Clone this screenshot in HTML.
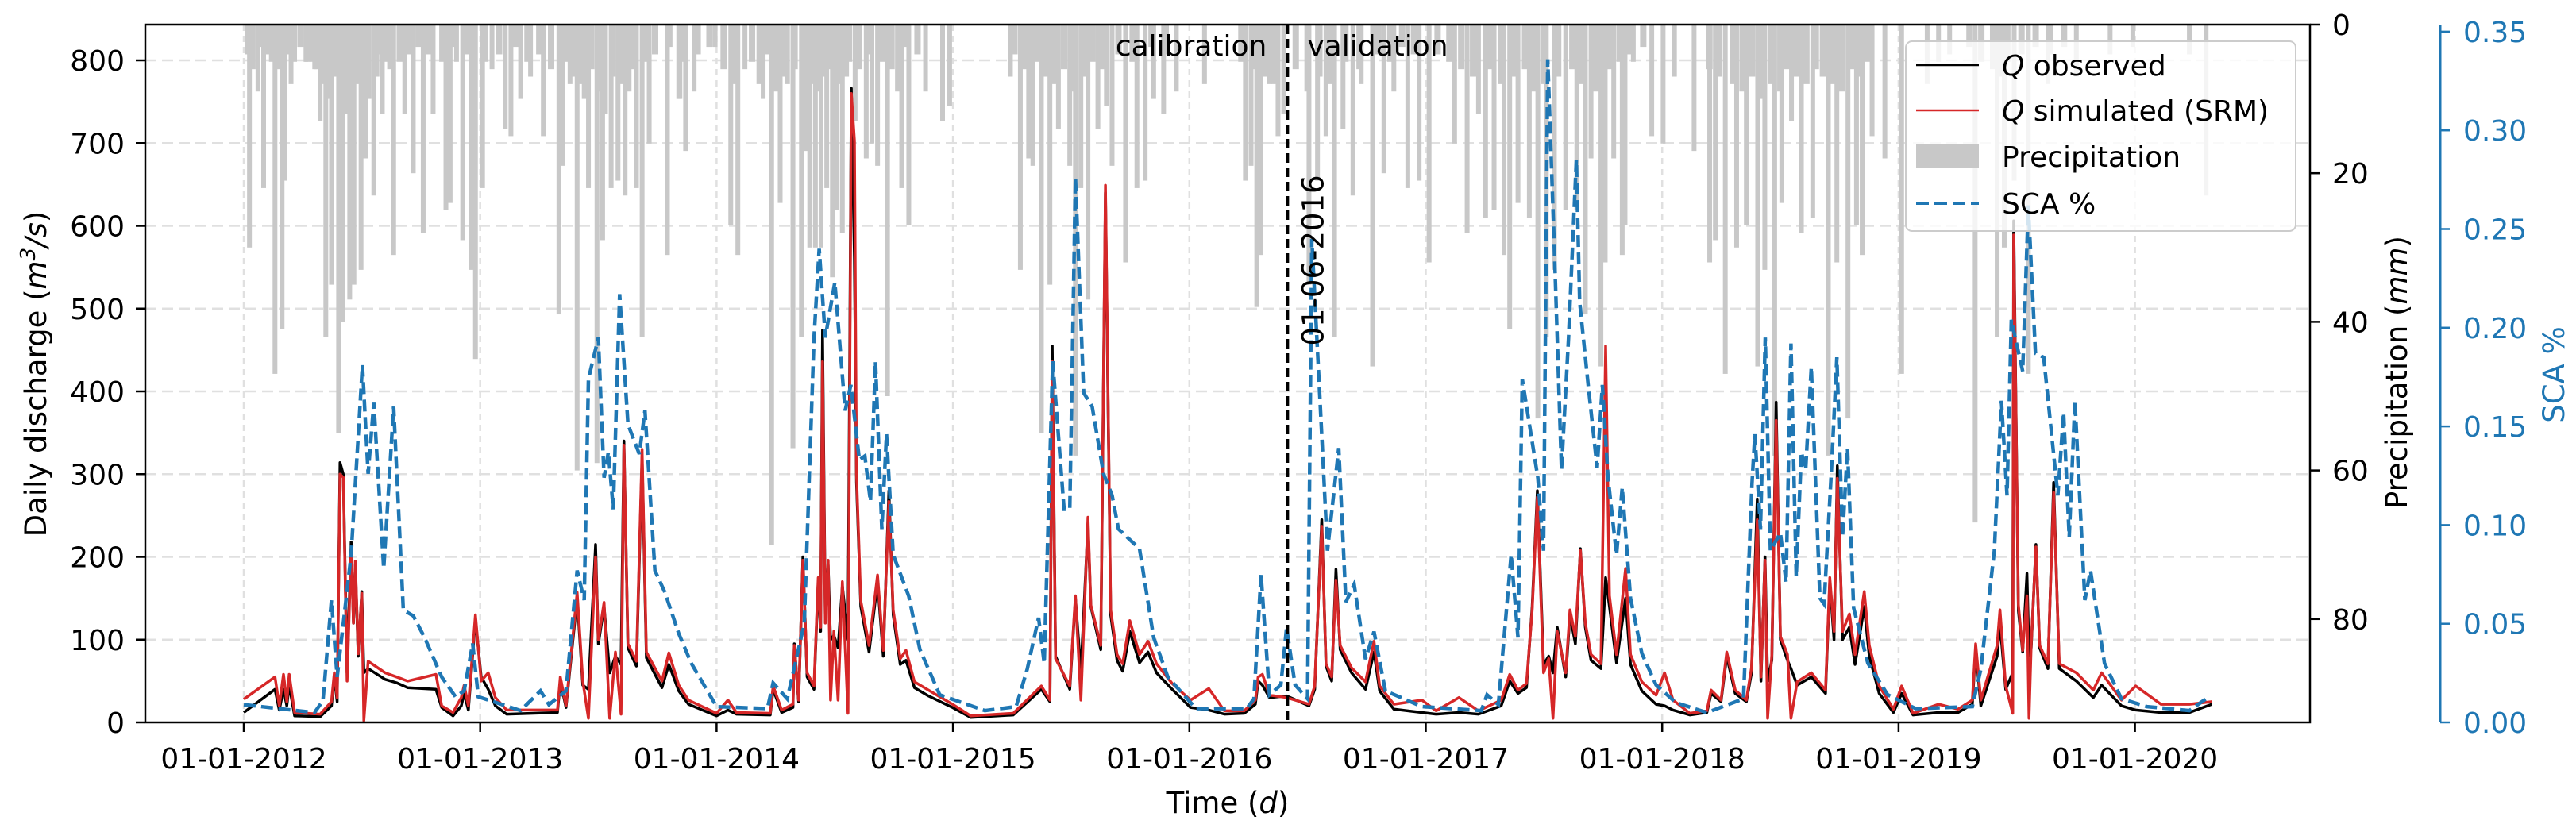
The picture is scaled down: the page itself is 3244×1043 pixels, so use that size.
<!DOCTYPE html>
<html><head><meta charset="utf-8">
<style>
html,body{margin:0;padding:0;background:#fff;}
svg{display:block;font-family:"DejaVu Sans","Liberation Sans",sans-serif;}
</style></head>
<body>
<svg id="chart" width="3244" height="1043" viewBox="0 0 3244 1043" xmlns="http://www.w3.org/2000/svg">
<defs><clipPath id="plotclip"><rect x="183" y="31" width="2726" height="879"/></clipPath></defs>
<rect x="0" y="0" width="3244" height="1043" fill="#fff"/>
<g id="grid"></g>
<g id="precip" clip-path="url(#plotclip)"></g>
<g id="series" clip-path="url(#plotclip)"></g>
<g id="axes"></g>
</svg>
<script>
// ---- data (time = years since 01-01-2012) ----
const yearTicks = ["01-01-2012","01-01-2013","01-01-2014","01-01-2015","01-01-2016","01-01-2017","01-01-2018","01-01-2019","01-01-2020"];
const qTicks = [0,100,200,300,400,500,600,700,800];
const pTicks = [0,20,40,60,80];
const scaTicks = ["0.00","0.05","0.10","0.15","0.20","0.25","0.30","0.35"];

const qT = [0,.132,.150,.168,.182,.192,.215,.323,.371,.383,.395,.407,.421,.437,.454,.464,.472,.484,.499,.508,.526,.598,.646,.693,.813,.837,.885,.920,.932,.950,.980,1.004,1.034,1.064,1.112,1.327,1.339,1.363,1.410,1.434,1.458,1.488,1.500,1.524,1.548,1.572,1.596,1.608,1.625,1.661,1.685,1.703,1.769,1.798,1.840,
1.881,2.000,2.048,2.084,2.227,2.239,2.275,2.323,2.329,2.347,2.365,2.383,2.412,2.430,2.440,2.448,2.460,2.472,2.482,2.496,2.514,2.532,2.556,2.570,2.583,2.592,2.610,2.645,2.681,2.705,2.729,2.747,2.777,2.801,2.837,2.896,2.998,3.075,3.255,3.374,3.410,3.420,3.434,3.494,3.518,3.541,3.571,3.583,3.625,3.645,3.667,3.694,
3.718,3.748,3.789,3.825,3.861,3.927,4.005,4.082,4.148,4.232,4.279,4.291,4.309,4.339,4.411,4.506,4.530,4.560,4.578,4.602,4.620,4.638,4.686,4.745,4.781,4.805,4.865,4.984,5.044,5.140,5.223,5.319,5.355,5.390,5.426,5.450,5.472,5.498,
5.520,5.538,5.556,5.592,5.610,5.633,5.654,5.675,5.699,5.741,5.761,5.777,5.807,5.845,5.866,5.914,5.974,6.010,6.046,6.117,6.189,6.207,6.249,6.273,6.309,6.356,6.378,6.402,6.418,6.435,6.446,6.464,6.482,6.500,6.530,6.545,6.571,6.631,6.691,6.709,6.727,6.741,6.763,6.792,6.816,6.855,6.876,6.918,6.978,7.013,7.061,7.169,7.252,7.312,7.326,7.348,
7.417,7.429,7.453,7.483,7.487,7.507,7.525,7.543,7.552,7.561,7.581,7.597,7.632,7.656,7.680,7.752,7.824,7.859,7.943,8.003,8.110,8.230,8.325];
const qSim = [28,55,20,58,25,58,12,10,25,60,30,300,296,50,210,120,195,83,156,2,74,60,55,50,58,20,12,30,45,20,130,50,60,30,15,15,55,20,157,50,5,200,100,145,5,85,10,335,95,74,330,85,50,84,45,
27,11,27,12,11,44,15,22,93,27,196,60,44,175,115,436,120,196,27,110,27,170,11,760,703,300,147,93,178,87,267,136,77,87,49,39,22,8,11,44,27,436,77,44,153,27,248,142,93,649,136,82,
71,123,82,98,71,47,27,41,14,14,27,55,58,33,30,22,44,237,71,55,172,93,66,49,98,44,22,27,14,30,14,27,58,39,47,136,272,60,
77,5,110,60,136,104,208,120,82,71,455,153,82,186,82,49,33,60,27,11,14,39,27,85,39,27,66,245,55,196,5,82,365,104,82,5,49,60,39,175,110,295,110,131,82,158,93,44,16,44,11,22,16,27,95,27,
93,136,44,11,589,142,87,153,5,93,212,93,71,278,71,60,39,60,27,44,22,22,25];
const qObs = [12,40,15,40,20,45,8,7,20,55,25,314,300,60,218,120,190,80,158,60,65,52,48,42,40,18,8,20,35,15,125,55,40,20,10,12,50,18,150,45,40,215,95,140,60,80,70,340,90,68,320,78,42,70,38,
22,8,15,10,9,40,12,18,95,25,200,55,40,170,110,474,125,190,100,105,90,165,100,766,560,290,140,85,170,80,280,130,70,75,42,32,18,6,9,40,25,455,80,40,150,60,240,140,88,640,130,75,
62,110,72,85,60,40,18,15,10,11,22,50,45,30,32,20,40,245,68,50,185,88,60,40,85,38,16,12,10,12,10,20,50,35,42,140,280,70,
80,60,115,55,130,95,210,115,75,65,175,140,72,150,70,38,22,20,15,9,12,35,25,80,35,25,60,270,50,200,50,75,387,100,75,65,45,55,35,170,100,310,100,115,70,140,80,35,12,35,9,12,12,22,90,20,
80,120,40,60,606,135,85,180,80,90,215,90,65,290,65,50,30,45,20,15,12,12,22];

const scaT = [0,.299,.335,.371,.395,.454,.502,.526,.550,.592,.634,.675,.717,.765,.837,.896,.932,.968,.992,1.171,1.255,1.291,1.363,1.410,1.440,1.458,1.500,1.524,1.542,1.563,1.590,1.625,1.673,1.697,1.739,1.781,1.840,
1.893,2.000,2.215,2.239,2.299,2.371,2.412,2.434,2.460,2.500,2.544,2.568,2.604,2.627,2.651,2.672,2.699,2.719,2.747,2.813,2.860,2.944,3.135,3.267,3.314,3.362,3.386,3.422,3.470,3.494,3.518,3.553,3.589,3.637,3.673,
3.700,3.789,3.849,3.909,4.028,4.243,4.273,4.303,4.339,4.387,4.411,4.447,4.500,4.518,4.554,4.584,4.632,4.662,4.697,4.745,4.781,4.829,4.984,5.235,5.259,5.307,5.361,5.390,5.408,5.474,5.498,5.516,
5.544,5.574,5.604,5.637,5.651,5.687,5.725,5.747,5.771,5.807,5.831,5.866,5.914,5.974,6.058,6.189,6.344,6.380,6.392,6.416,6.436,6.458,6.500,6.524,6.545,6.567,6.589,6.607,6.631,6.667,6.685,6.715,6.739,6.763,6.784,6.810,6.870,6.954,7.073,7.312,7.348,
7.405,7.435,7.459,7.477,7.525,7.549,7.579,7.614,7.674,7.698,7.722,7.746,7.788,7.812,7.871,7.943,8.051,8.230,8.301];
const scaV = [.009,.005,.011,.062,.023,.085,.181,.126,.162,.078,.160,.057,.054,.043,.023,.013,.016,.040,.013,.006,.016,.009,.016,.077,.062,.174,.195,.124,.137,.108,.217,.151,.136,.158,.077,.066,.045,
.030,.008,.007,.020,.012,.050,.195,.240,.195,.223,.158,.171,.133,.135,.112,.183,.098,.146,.085,.064,.037,.014,.006,.008,.027,.053,.030,.183,.108,.108,.276,.167,.160,.126,.115,
.098,.088,.043,.023,.007,.007,.012,.075,.014,.019,.048,.019,.012,.245,.160,.087,.139,.061,.070,.032,.046,.016,.008,.006,.014,.009,.085,.043,.174,.124,.087,.336,
.240,.128,.195,.285,.213,.171,.129,.171,.124,.085,.119,.063,.035,.019,.010,.005,.012,.121,.146,.098,.195,.087,.096,.071,.192,.074,.137,.128,.180,.063,.060,.126,.185,.094,.139,.058,.030,.014,.007,.008,.027,
.087,.163,.115,.204,.178,.262,.187,.185,.115,.157,.094,.163,.062,.077,.030,.012,.008,.006,.012];

const pT = [.024,.04,.060,.084,.10,.132,.162,.174,.20,.215,.263,.287,.30,.323,.347,.36,.371,.401,.419,.43,.448,.466,.48,.496,.514,.53,.550,.586,.60,.634,.681,.717,.759,.801,.855,.873,.90,.926,.962,.980,1.010,1.05,1.106,1.130,1.171,1.213,1.267,1.333,1.350,1.38,1.410,1.44,1.458,1.494,1.518,1.53,1.554,1.583,1.613,1.63,1.661,1.685,1.715,1.792,1.840,
1.845,1.869,1.905,1.994,2.060,2.090,2.12,2.179,2.197,2.233,2.269,2.30,2.323,2.359,2.377,2.394,2.418,2.442,2.466,2.490,2.508,2.532,2.550,2.586,2.633,2.657,2.681,2.723,2.765,2.783,2.813,2.884,2.956,2.986,3.243,3.285,3.320,3.338,3.374,3.410,3.446,3.494,3.518,3.541,3.571,3.613,3.649,3.673,
3.730,3.778,3.813,3.849,3.891,3.945,4.064,4.237,4.261,4.285,4.303,4.339,4.375,4.399,4.506,4.542,4.578,4.614,4.650,4.692,4.727,4.775,4.823,4.865,4.924,4.972,5.014,5.122,5.175,5.223,5.253,5.289,5.331,5.355,5.390,5.438,5.474,5.510,
5.544,5.592,5.639,5.675,5.699,5.741,5.759,5.795,5.831,5.843,5.878,5.956,6.004,6.052,6.135,6.201,6.225,6.267,6.315,6.356,6.404,6.434,6.476,6.506,6.547,6.589,6.637,6.703,6.739,6.786,6.822,6.846,6.888,6.942,7.013,7.121,7.169,7.216,7.324,
7.417,7.447,7.489,7.549,7.632,7.752,7.895,7.991,8.230,8.301];
const pMM = [30,6,9,22,4,47,41,21,8,5,5,5,6,13,42,10,35,55,40,12,37,35,8,33,18,10,23,12,5,31,12,20,28,12,25,24,5,29,33,45,22,6,14,15,10,7,15,39,19,8,60,10,22,59,29,12,22,21,23,9,22,42,16,31,10,
10,17,9,3,27,31,6,8,10,70,24,8,57,42,17,30,30,30,22,34,25,28,7,13,18,16,19,50,9,22,27,9,13,11,7,33,18,19,55,35,14,19,58,22,37,14,11,19,
32,22,21,10,12,9,8,21,19,38,31,8,15,12,35,21,15,42,14,23,8,46,20,9,22,21,32,16,28,12,26,25,31,41,24,26,53,42,
33,25,25,39,18,46,32,18,31,27,5,15,16,7,17,32,29,47,30,27,46,33,58,24,13,28,26,58,32,53,27,31,15,18,47,8,5,4,67,
42,30,21,47,8,7,4,3,4,23];
// dense light rain days near the top (read as short bars)
const pLightT = [.02,.07,.12,.15,.18,.24,.27,.31,.34,.39,.41,.44,.46,.51,.56,.58,.62,.66,.70,.74,.78,.84,.88,.94,.97,
1.02,1.08,1.15,1.20,1.25,1.30,1.36,1.40,1.43,1.47,1.50,1.56,1.60,1.65,1.70,1.74,1.80,1.86,1.92,1.97,
2.03,2.08,2.15,2.21,2.25,2.29,2.33,2.37,2.40,2.43,2.46,2.48,2.52,2.56,2.60,2.64,2.70,2.74,2.80,2.85,
3.26,3.30,3.35,3.39,3.43,3.47,3.51,3.55,3.59,3.63,3.70,3.76,3.84,3.90,
4.22,4.27,4.32,4.36,4.45,4.50,4.55,4.60,4.66,4.72,4.80,4.85,4.90,4.95,5.05,5.10,5.15,5.20,5.27,5.32,5.37,5.42,5.46,5.50,
5.56,5.62,5.66,5.72,5.78,5.82,5.86,5.92,6.20,6.24,6.30,6.34,6.38,6.42,6.46,6.50,6.53,6.57,6.61,6.65,6.68,6.72,6.76,6.80,6.84,6.87,
7.30,7.35,7.40,7.43,7.46,7.52,7.58,7.64,7.70];
const pLightMM = [4,3,5,6,4,3,5,6,8,7,9,6,10,5,7,4,6,5,4,3,4,5,3,4,6,
5,4,3,5,4,6,5,7,8,6,9,7,8,6,5,4,3,5,4,3,
6,8,5,4,9,7,6,10,8,9,7,6,8,5,6,4,5,6,3,4,
4,6,5,7,8,6,9,7,5,6,4,5,3,4,
5,6,7,8,6,9,7,8,5,6,4,5,3,4,4,5,6,7,6,8,7,6,9,8,
7,6,8,9,6,5,4,3,6,7,8,9,7,10,8,9,6,7,8,6,7,8,9,6,7,5,
3,5,6,7,5,4,3,4,3];

// ---- axis functions ----
const X0 = 307, PXY = 297.7;
const xS = t => X0 + t * PXY;
const yQ = v => 910 - v * 1.0425;
const yP = mm => 31 + mm * 9.36;
const yS = s => 910 - s * 2486;

const NS = "http://www.w3.org/2000/svg";
function mk(tag, attrs, parent) {
  const e = document.createElementNS(NS, tag);
  for (const k in attrs) e.setAttribute(k, attrs[k]);
  parent.appendChild(e);
  return e;
}
const grid = document.getElementById('grid');
const precip = document.getElementById('precip');
const series = document.getElementById('series');
const axes = document.getElementById('axes');

// grid
qTicks.forEach((v, i) => {
  if (v === 0) return;
  const l = mk('line', {x1:183, x2:2909, y1:yQ(v), y2:yQ(v), stroke:'#e0e0e0', 'stroke-width':2.5, 'stroke-dasharray':'14 7'}, grid);
  
  
});
yearTicks.forEach((lab, i) => {
  const l = mk('line', {x1:xS(i), x2:xS(i), y1:31, y2:910, stroke:'#e0e0e0', 'stroke-width':2.5, 'stroke-dasharray':'8 6'}, grid);
  
  
});

// precipitation bars
pT.forEach((t, i) => {
  const r = mk('rect', {x:xS(t) - 3, y:31, width:6, height:yP(pMM[i]) - 31, fill:'#c8c8c8'}, precip);
  
  
});
pLightT.forEach((t, i) => {
  const r = mk('rect', {x:xS(t) - 4, y:31, width:8, height:yP(pLightMM[i]) - 31, fill:'#c8c8c8'}, precip);
  
  
});

function path(ts, vs, yf) {
  return ts.map((t, i) => (i ? 'L' : 'M') + xS(t).toFixed(1) + ' ' + yf(vs[i]).toFixed(1)).join(' ');
}
const po = mk('path', {d:path(qT, qObs, yQ), fill:'none', stroke:'#000', 'stroke-width':3.5, 'stroke-linejoin':'round'}, series);


const ps = mk('path', {d:path(qT, qSim, yQ), fill:'none', stroke:'#d62728', 'stroke-width':3.5, 'stroke-linejoin':'round'}, series);


const pc = mk('path', {d:path(scaT, scaV, yS), fill:'none', stroke:'#1f77b4', 'stroke-width':4.5, 'stroke-dasharray':'15 7'}, series);



// calibration split
const cx = xS(4.415);
const cl = mk('line', {x1:cx, x2:cx, y1:31, y2:910, stroke:'#000', 'stroke-width':4, 'stroke-dasharray':'12 6'}, axes);


function txt(s, attrs, name, parent) {
  const e = mk('text', attrs, parent || axes);
  e.textContent = s;
  
  
  return e;
}
txt('calibration', {x:cx - 26, y:70, 'text-anchor':'end', 'font-size':36}, 'calibration-label');
txt('validation', {x:cx + 25, y:70, 'font-size':36}, 'validation-label');
txt('01-06-2016', {x:0, y:0, 'font-size':37, 'text-anchor':'middle', transform:`translate(${cx + 45},328) rotate(-90)`}, 'split-date-label');

// frame
const fr = mk('rect', {x:183, y:31, width:2726, height:879, fill:'none', stroke:'#000', 'stroke-width':2.5}, axes);



// left axis
qTicks.forEach(v => {
  const t = mk('line', {x1:171, x2:183, y1:yQ(v), y2:yQ(v), stroke:'#000', 'stroke-width':2.5}, axes);
  
  
  txt(String(v), {x:157, y:yQ(v) + 13, 'text-anchor':'end', 'font-size':36}, 'y-tick-label');
});
const yl = txt('', {x:0, y:0, 'font-size':37, 'text-anchor':'middle', transform:'translate(58,471) rotate(-90)'}, 'y-axis-title');
yl.innerHTML = 'Daily discharge (<tspan font-style="italic">m</tspan><tspan font-size="26" dy="-14" font-style="italic">3</tspan><tspan dy="14" font-style="italic">/s</tspan>)';

// x axis
yearTicks.forEach((lab, i) => {
  const t = mk('line', {x1:xS(i), x2:xS(i), y1:910, y2:922, stroke:'#000', 'stroke-width':2.5}, axes);
  
  
  txt(lab, {x:xS(i), y:968, 'text-anchor':'middle', 'font-size':36}, 'x-tick-label');
});
const xl = txt('', {x:1546, y:1024, 'text-anchor':'middle', 'font-size':37}, 'x-axis-title');
xl.innerHTML = 'Time (<tspan font-style="italic">d</tspan>)';

// precipitation axis
pTicks.forEach(v => {
  const t = mk('line', {x1:2909, x2:2921, y1:yP(v), y2:yP(v), stroke:'#000', 'stroke-width':2.5}, axes);
  
  
  txt(String(v), {x:2937, y:yP(v) + 13, 'font-size':36}, 'precip-tick-label');
});
const pl = txt('', {x:0, y:0, 'font-size':37, 'text-anchor':'middle', transform:'translate(3031,469) rotate(-90)'}, 'precip-axis-title');
pl.innerHTML = 'Precipitation (<tspan font-style="italic">mm</tspan>)';

// SCA axis
const sp = mk('line', {x1:3073, x2:3073, y1:31, y2:910, stroke:'#1f77b4', 'stroke-width':3}, axes);


scaTicks.forEach(s => {
  const v = parseFloat(s);
  const t = mk('line', {x1:3073, x2:3085, y1:yS(v), y2:yS(v), stroke:'#1f77b4', 'stroke-width':2.5}, axes);
  
  
  txt(s, {x:3102, y:yS(v) + 13, 'font-size':36, fill:'#1f77b4'}, 'sca-tick-label');
});
txt('SCA %', {x:0, y:0, 'font-size':37, 'text-anchor':'middle', fill:'#1f77b4', transform:'translate(3229,472) rotate(-90)'}, 'sca-axis-title');

// legend
const lg = mk('g', {}, axes);


const lb = mk('rect', {x:2400, y:52, width:491, height:239, rx:8, fill:'#fff', 'fill-opacity':0.8, stroke:'#cccccc', 'stroke-width':2}, lg);


const e1 = mk('line', {x1:2413, x2:2492, y1:82, y2:82, stroke:'#000', 'stroke-width':2.5}, lg);


const e2 = mk('line', {x1:2413, x2:2492, y1:139, y2:139, stroke:'#d62728', 'stroke-width':2.5}, lg);


const e3 = mk('rect', {x:2413, y:182, width:79, height:30, fill:'#c8c8c8'}, lg);


const e4 = mk('line', {x1:2413, x2:2492, y1:256, y2:256, stroke:'#1f77b4', 'stroke-width':4, 'stroke-dasharray':'16 7'}, lg);


const t1 = txt('', {x:2521, y:95, 'font-size':36}, 'legend-entry-observed', lg);
t1.innerHTML = '<tspan font-style="italic">Q</tspan> observed';
const t2 = txt('', {x:2521, y:152, 'font-size':36}, 'legend-entry-simulated', lg);
t2.innerHTML = '<tspan font-style="italic">Q</tspan> simulated (SRM)';
txt('Precipitation', {x:2521, y:210, 'font-size':36}, 'legend-entry-precipitation', lg);
txt('SCA %', {x:2521, y:269, 'font-size':36}, 'legend-entry-sca', lg);
</script>
</body></html>
